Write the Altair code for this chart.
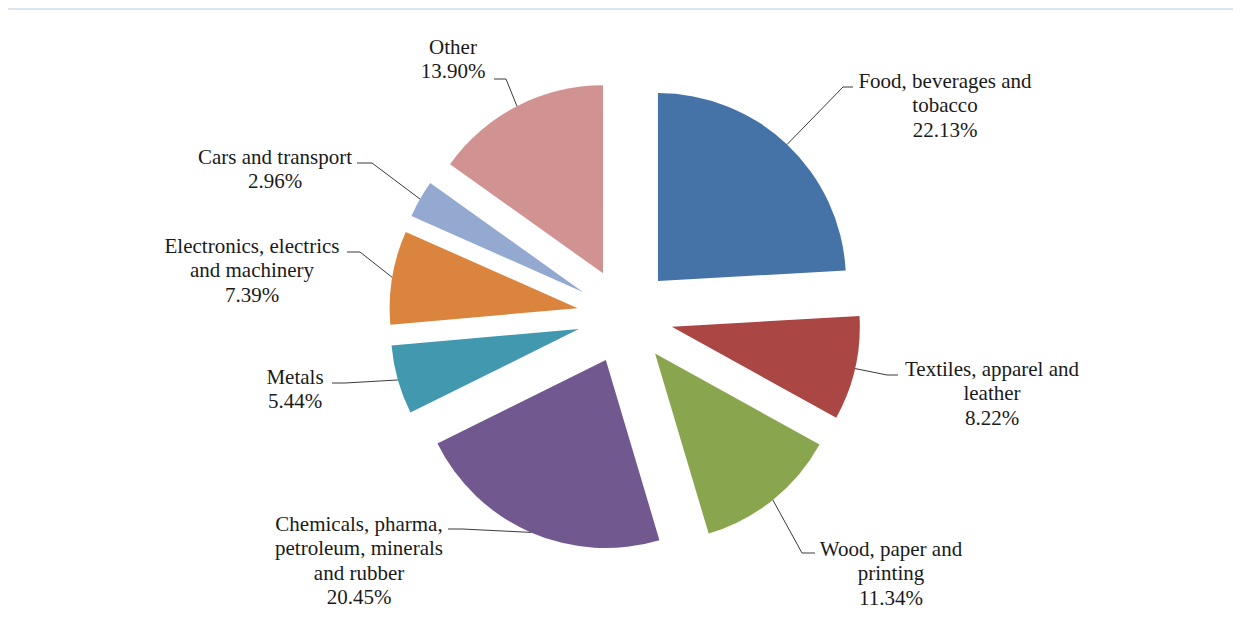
import math
import altair as alt
import pandas as pd

# ---------------- data ----------------
categories = [
    "Food, beverages and tobacco",
    "Textiles, apparel and leather",
    "Wood, paper and printing",
    "Chemicals, pharma, petroleum, minerals and rubber",
    "Metals",
    "Electronics, electrics and machinery",
    "Cars and transport",
    "Other",
]
label_lines = [
    ["Food, beverages and", "tobacco"],
    ["Textiles, apparel and", "leather"],
    ["Wood, paper and", "printing"],
    ["Chemicals, pharma,", "petroleum, minerals", "and rubber"],
    ["Metals"],
    ["Electronics, electrics", "and machinery"],
    ["Cars and transport"],
    ["Other"],
]
shares = [22.13, 8.22, 11.34, 20.45, 5.44, 7.39, 2.96, 13.90]
colors = ["#4572A7", "#AA4643", "#89A54E", "#71588F",
          "#4198AF", "#DB843D", "#93A9CF", "#D19392"]

# ---------------- layout (page pixels) ----------------
OFF = 8                 # page margin
W, H = 1225, 605
CX, CY = 625, 316       # pie centre
EXPLODE = 48            # explosion distance
R = 188                 # slice radius
label_cx = [945, 992, 891, 359, 295, 252, 275, 453]
label_first_y = [82, 370, 550, 525, 378, 247, 158, 48]
elbow_x = [843, 887, 802, 462, 345, 360, 372, 506]
elbow_y = [87, 375, 553, 529, 383, 252, 163, 79]
end_x = [853, 898, 815, 448, 332, 347, 357, 494]

total = sum(shares)

slices = pd.DataFrame({
    "category": categories,
    "share": shares,
    "order": list(range(len(categories))),
})

scale_color = alt.Scale(domain=categories, range=colors)

pie = (
    alt.Chart(slices)
    .transform_window(cum_end="sum(share)", frame=[None, 0], sort=[alt.SortField("order")])
    .transform_calculate(
        t0="datum.cum_end - datum.share",
        mid=f"2*PI*(datum.cum_end - datum.share/2)/{total}",
    )
    .transform_calculate(
        px=f"{CX - OFF} + {EXPLODE}*sin(datum.mid)",
        py=f"{CY - OFF} - {EXPLODE}*cos(datum.mid)",
    )
    .mark_arc(outerRadius=R, stroke=None)
    .encode(
        theta=alt.Theta("t0:Q", scale=alt.Scale(domain=[0, total], range=[0, 2 * math.pi], nice=False, zero=True), stack=None),
        theta2=alt.Theta2("cum_end:Q"),
        x=alt.X("px:Q", scale=None),
        y=alt.Y("py:Q", scale=None),
        color=alt.Color("category:N", scale=scale_color, legend=None),
    )
)

# leader lines: slice arc midpoint -> elbow -> end at label
rows = []
cum = 0.0
for i, v in enumerate(shares):
    mid = 2 * math.pi * (cum + v / 2) / total
    cum += v
    ax = CX + (EXPLODE + R) * math.sin(mid)
    ay = CY - (EXPLODE + R) * math.cos(mid)
    pts = [(ax, ay), (elbow_x[i], elbow_y[i]), (end_x[i], elbow_y[i])]
    for j, (x, y) in enumerate(pts):
        rows.append({"category": categories[i], "seq": j, "x": x - OFF, "y": y - OFF})
leaders = pd.DataFrame(rows)

lines = (
    alt.Chart(leaders)
    .mark_line(color="#3a3a3a", strokeWidth=1)
    .encode(
        x=alt.X("x:Q", scale=None),
        y=alt.Y("y:Q", scale=None),
        detail="category:N",
        order="seq:Q",
    )
)

labels_df = pd.DataFrame({
    "text": ["\n".join(l + [f"{v:.2f}%"]) for l, v in zip(label_lines, shares)],
    "x": [x - OFF for x in label_cx],
    "y": [y - OFF for y in label_first_y],
})
labels = (
    alt.Chart(labels_df)
    .mark_text(font="Liberation Serif", fontSize=21, lineHeight=24.3, lineBreak="\n",
               align="center", baseline="middle", color="#1a1a1a")
    .encode(x=alt.X("x:Q", scale=None), y=alt.Y("y:Q", scale=None), text="text:N")
)

band = alt.Chart(pd.DataFrame({"a": [0]})).mark_rect(color="#dbe5f1").encode(
    x=alt.value(0), x2=alt.value(W), y=alt.value(0), y2=alt.value(2)
)

chart = (
    alt.layer(band, pie, lines, labels)
    .properties(width=W, height=H, padding=0, autosize="none", background="white")
    .configure_view(stroke=None)
)

chart.save("out.html", embed_options={"renderer": "svg", "actions": False})
